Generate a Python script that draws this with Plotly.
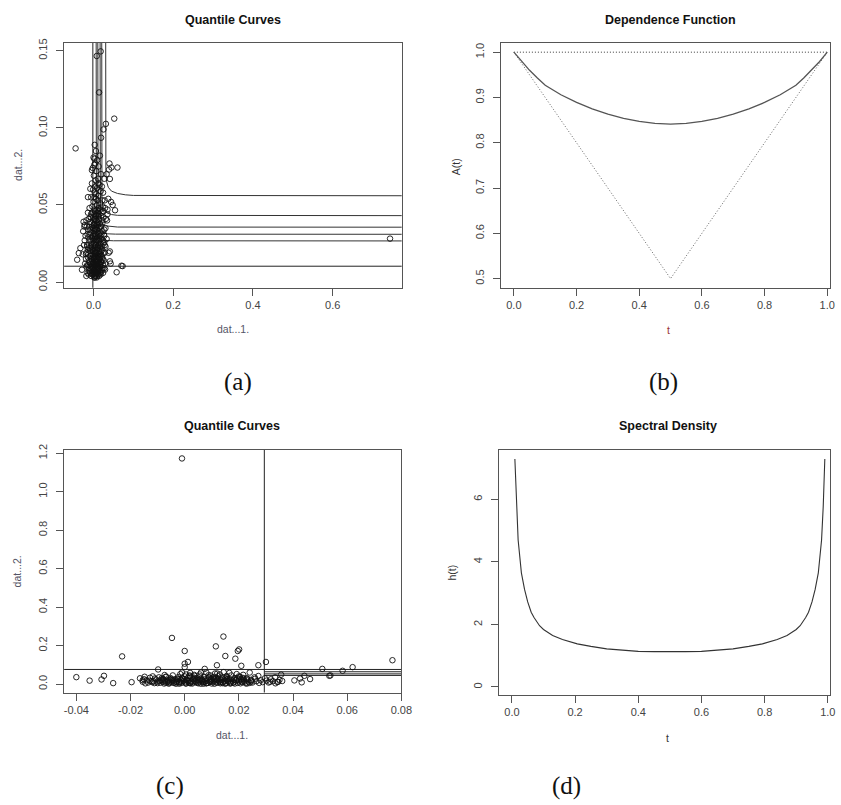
import plotly.graph_objects as go

# ---------------- Panel (a) data ----------------
a_x = [-0.045, 0.019, 0.000, 0.040, 0.060, 0.045, 0.033, 0.041, -0.004, 0.002, -0.008, -0.014, 0.054, 0.048,
       -0.025, -0.022, -0.037, -0.041, -0.033, 0.041, 0.041, 0.029, 0.070, 0.058, -0.029, 0.018, 0.008, 0.014,
       0.052, 0.031, 0.025, 0.003, 0.744, 0.073,
       0.002, 0.005, 0.008, -0.003, 0.011, 0.014, 0.001, -0.008, 0.017, 0.004, 0.007, -0.012, 0.013, 0.020,
       -0.002, 0.010, 0.003, -0.006, 0.016, 0.023, 0.006, -0.016, 0.000, 0.012, 0.009, -0.010, 0.019, 0.004,
       -0.004, 0.015, 0.001, 0.026, -0.019, 0.008, 0.011, -0.007, 0.003, 0.018, -0.013, 0.006, 0.000, 0.014,
       -0.002, 0.022, 0.009, -0.009, 0.004, 0.017, -0.016, 0.012, 0.001, -0.005, 0.025, 0.007, 0.015, -0.011,
       0.003, 0.020, 0.010, -0.002, 0.006, 0.013, -0.007, 0.018, 0.001, 0.009, -0.013, 0.027, 0.004, 0.016,
       -0.004, 0.011, 0.022, 0.002, -0.009, 0.007, 0.014, -0.001, 0.019, 0.005, -0.006, 0.010, 0.025, 0.002,
       0.013, -0.003, 0.008, 0.017, 0.000, 0.022, 0.006, -0.006, 0.012, 0.003, 0.018, -0.001, 0.009, 0.015,
       -0.004, 0.005, 0.011, 0.001, 0.019, 0.007, -0.002, 0.013, 0.004, 0.009, 0.002, 0.016, 0.006,
       0.003, 0.006, 0.009, 0.012, 0.000, 0.005, 0.008, 0.002, 0.011, 0.014, -0.001, 0.007, 0.010, 0.005,
       0.013, 0.002, 0.009, 0.016, 0.007, 0.011, 0.003, 0.005, 0.012, 0.008, 0.004, 0.010, 0.006, 0.003,
       0.008, 0.012, 0.004, 0.009, 0.002, 0.007, 0.010, 0.004, 0.012, 0.021, 0.024, -0.014, -0.018, 0.028,
       0.030, 0.027, 0.031, 0.029, 0.024, 0.021, 0.027, -0.010, -0.012, -0.020, -0.022, -0.015, 0.034, 0.037,
       -0.017, 0.035, 0.039, -0.027, 0.044]
a_y = [0.0867, 0.0936, 0.0808, 0.0769, 0.0743, 0.0743, 0.0700, 0.0669, 0.0726, 0.0760, 0.0605, 0.0551, 0.0466, 0.0500,
       0.0391, 0.0370, 0.0188, 0.0145, 0.0220, 0.0199, 0.0135, 0.0081, 0.0106, 0.0064, 0.0080, 0.1496, 0.1466, 0.1230,
       0.1060, 0.1026, 0.0990, 0.0890, 0.0282, 0.0104,
       0.003, 0.004, 0.003, 0.005, 0.005, 0.004, 0.006, 0.006, 0.006, 0.007, 0.008, 0.008, 0.008, 0.007,
       0.009, 0.009, 0.010, 0.010, 0.010, 0.009, 0.011, 0.011, 0.012, 0.012, 0.013, 0.013, 0.013, 0.014,
       0.014, 0.015, 0.015, 0.014, 0.015, 0.016, 0.017, 0.017, 0.018, 0.018, 0.018, 0.019, 0.020, 0.020,
       0.021, 0.021, 0.022, 0.022, 0.023, 0.023, 0.023, 0.024, 0.025, 0.025, 0.025, 0.026, 0.027, 0.027,
       0.028, 0.028, 0.029, 0.030, 0.031, 0.031, 0.032, 0.032, 0.033, 0.034, 0.034, 0.034, 0.035, 0.036,
       0.036, 0.037, 0.038, 0.038, 0.039, 0.040, 0.041, 0.042, 0.043, 0.043, 0.044, 0.045, 0.046, 0.047,
       0.048, 0.049, 0.050, 0.051, 0.052, 0.053, 0.054, 0.055, 0.056, 0.058, 0.059, 0.060, 0.061, 0.063,
       0.064, 0.066, 0.067, 0.069, 0.070, 0.072, 0.074, 0.075, 0.077, 0.079, 0.080, 0.082, 0.085,
       0.004, 0.005, 0.006, 0.007, 0.008, 0.009, 0.011, 0.012, 0.010, 0.012, 0.013, 0.014, 0.015, 0.016,
       0.016, 0.017, 0.019, 0.016, 0.021, 0.022, 0.020, 0.024, 0.027, 0.028, 0.030, 0.032, 0.034, 0.041,
       0.037, 0.043, 0.046, 0.047, 0.055, 0.057, 0.053, 0.062, 0.064, 0.017, 0.011, 0.021, 0.019, 0.019,
       0.023, 0.030, 0.041, 0.048, 0.058, 0.062, 0.067, 0.048, 0.041, 0.030, 0.027, 0.031, 0.040, 0.054,
       0.036, 0.047, 0.073, 0.018, 0.052]
# denser lower part of the (a) cloud
a_x_dense = [-0.018, -0.015, -0.012, -0.009, -0.006, -0.003, 0.000, 0.003, 0.006, 0.009, 0.012, 0.015, 0.018, 0.021, 0.024, 0.027,
             -0.021, -0.017, -0.013, -0.010, -0.007, -0.004, -0.001, 0.002, 0.005, 0.008, 0.011, 0.014, 0.017, 0.020, 0.023, 0.029,
             -0.019, -0.014, -0.011, -0.008, -0.005, -0.002, 0.001, 0.004, 0.007, 0.010, 0.013, 0.016, 0.019, 0.022, 0.025, 0.028,
             -0.016, -0.012, -0.009, -0.006, -0.003, 0.000, 0.003, 0.006, 0.009, 0.012, 0.015, 0.018, 0.021, 0.024, 0.027, -0.024,
             -0.013, -0.010, -0.007, -0.004, -0.001, 0.002, 0.005, 0.008, 0.011, 0.014, 0.017, 0.020, 0.023, 0.026, 0.030, -0.026,
             -0.011, -0.008, -0.005, -0.002, 0.001, 0.004, 0.007, 0.010, 0.013, 0.016, 0.019, 0.022, 0.025, -0.018, -0.023, 0.033,
             -0.007, -0.004, -0.001, 0.002, 0.005, 0.008, 0.011, 0.014, 0.017, 0.020, 0.023, -0.014, 0.028, 0.035, 0.038, 0.043]
a_y_dense = [0.004, 0.006, 0.005, 0.007, 0.004, 0.006, 0.005, 0.003, 0.006, 0.004, 0.005, 0.007, 0.005, 0.008, 0.006, 0.009,
             0.012, 0.010, 0.011, 0.009, 0.012, 0.008, 0.010, 0.011, 0.013, 0.010, 0.012, 0.009, 0.011, 0.013, 0.015, 0.012,
             0.018, 0.016, 0.014, 0.017, 0.015, 0.018, 0.016, 0.019, 0.017, 0.014, 0.018, 0.015, 0.020, 0.016, 0.019, 0.024,
             0.024, 0.022, 0.020, 0.023, 0.021, 0.025, 0.022, 0.024, 0.021, 0.023, 0.022, 0.025, 0.023, 0.027, 0.026, 0.024,
             0.029, 0.031, 0.027, 0.029, 0.027, 0.031, 0.029, 0.027, 0.030, 0.028, 0.030, 0.031, 0.033, 0.031, 0.035, 0.033,
             0.036, 0.034, 0.038, 0.035, 0.037, 0.034, 0.036, 0.039, 0.035, 0.038, 0.036, 0.040, 0.042, 0.040, 0.036, 0.028,
             0.042, 0.045, 0.040, 0.044, 0.041, 0.043, 0.046, 0.044, 0.047, 0.045, 0.049, 0.045, 0.053, 0.044, 0.019, 0.012]

# quantile curves (a)
qa1_vx = [-0.0017, -0.0017]
qa1_vy = [-0.01, 0.16]
qa1_hx = [-0.08, 0.78]
qa1_hy = [0.0103, 0.0103]
qa2_x = [0.0066, 0.0066, 0.0073, 0.0095, 0.0135, 0.0200, 0.0320, 0.0500, 0.7800]
qa2_y = [0.1600, 0.0380, 0.0340, 0.0302, 0.0285, 0.0275, 0.0270, 0.0268, 0.0267]
qa3_x = [0.0107, 0.0107, 0.0114, 0.0135, 0.0175, 0.0240, 0.0360, 0.0550, 0.7800]
qa3_y = [0.1600, 0.0420, 0.0380, 0.0345, 0.0328, 0.0318, 0.0313, 0.0311, 0.0310]
qa4_x = [0.0165, 0.0165, 0.0172, 0.0195, 0.0235, 0.0300, 0.0420, 0.0600, 0.7800]
qa4_y = [0.1600, 0.0480, 0.0435, 0.0395, 0.0375, 0.0365, 0.0360, 0.0357, 0.0356]
qa5_x = [0.0206, 0.0206, 0.0212, 0.0235, 0.0275, 0.0340, 0.0450, 0.0600, 0.7800]
qa5_y = [0.1600, 0.0600, 0.0540, 0.0490, 0.0465, 0.0448, 0.0438, 0.0433, 0.0431]
qa6_x = [0.0305, 0.0305, 0.0310, 0.0330, 0.0370, 0.0450, 0.0600, 0.0800, 0.1000, 0.7800]
qa6_y = [0.1600, 0.0780, 0.0700, 0.0650, 0.0615, 0.0590, 0.0575, 0.0566, 0.0562, 0.0560]

# ---------------- Panel (b) data ----------------
b_t = [0.0, 0.025, 0.05, 0.075, 0.1, 0.15, 0.2, 0.25, 0.3, 0.35, 0.4, 0.45, 0.5, 0.55, 0.6, 0.65, 0.7, 0.75,
       0.8, 0.85, 0.9, 0.925, 0.95, 0.975, 1.0]
b_A = [1.0, 0.979, 0.960, 0.943, 0.927, 0.906, 0.889, 0.875, 0.863, 0.854, 0.847, 0.843, 0.841, 0.843, 0.847,
       0.854, 0.863, 0.875, 0.889, 0.906, 0.927, 0.943, 0.960, 0.979, 1.0]
b_upper_t = [0.0, 1.0]
b_upper_A = [1.0, 1.0]
b_lower_t = [0.0, 0.5, 1.0]
b_lower_A = [1.0, 0.5, 1.0]

# ---------------- Panel (c) data ----------------
c_x = [-0.0010, -0.0047, 0.0143, 0.0115, 0.0196, 0.0201, 0.0000, 0.0150, -0.0231, 0.0187, 0.0012, 0.0000,
       0.0300, 0.0272, 0.0209, 0.0119, -0.0098, 0.0074, 0.0767, 0.0620, 0.0508, 0.0583, 0.0534, 0.0538,
       0.0463, 0.0442, 0.0426, 0.0405, 0.0432, 0.0356, 0.0345, -0.0400, -0.0351, -0.0307, -0.0298, -0.0264,
       -0.0196, -0.0074, 0.0000,
       -0.0165, -0.0155, -0.0148, -0.0140, -0.0135, -0.0128, -0.0122, -0.0118, -0.0112, -0.0106, -0.0100, -0.0095,
       -0.0090, -0.0085, -0.0080, -0.0076, -0.0072, -0.0068, -0.0064, -0.0060, -0.0056, -0.0052, -0.0048, -0.0044,
       -0.0040, -0.0036, -0.0032, -0.0028, -0.0024, -0.0020, -0.0016, -0.0012, -0.0008, -0.0004, 0.0000, 0.0004,
       0.0008, 0.0012, 0.0016, 0.0020, 0.0024, 0.0028, 0.0032, 0.0036, 0.0040, 0.0044, 0.0048, 0.0052,
       0.0056, 0.0060, 0.0064, 0.0068, 0.0072, 0.0076, 0.0080, 0.0084, 0.0088, 0.0092, 0.0096, 0.0100,
       0.0104, 0.0108, 0.0112, 0.0116, 0.0120, 0.0124, 0.0128, 0.0132, 0.0136, 0.0140, 0.0144, 0.0148,
       0.0152, 0.0156, 0.0160, 0.0164, 0.0168, 0.0172, 0.0176, 0.0180, 0.0184, 0.0188, 0.0192, 0.0196,
       0.0200, 0.0204, 0.0208, 0.0212, 0.0216, 0.0220, 0.0225, 0.0230, 0.0235, 0.0240, 0.0245, 0.0250,
       0.0258, 0.0265, 0.0272, 0.0280, 0.0288, 0.0296, 0.0302, 0.0310, 0.0318, 0.0326, 0.0334, 0.0342,
       0.0350, 0.0360,
       -0.0150, -0.0130, -0.0110, -0.0093, -0.0078, -0.0062, -0.0046, -0.0030, -0.0014, 0.0002, 0.0014, 0.0026,
       0.0038, 0.0050, 0.0062, 0.0074, 0.0086, 0.0098, 0.0110, 0.0122, 0.0134, 0.0146, 0.0158, 0.0170,
       0.0182, 0.0194, 0.0206, 0.0218, 0.0232, 0.0246, 0.0038, 0.0058, 0.0018, -0.0010, 0.0080, 0.0130,
       0.0165, -0.0026, 0.0090, 0.0115, 0.0020, 0.0070, 0.0110, 0.0150, -0.0020]
c_y = [1.173, 0.240, 0.247, 0.196, 0.172, 0.180, 0.172, 0.146, 0.144, 0.132, 0.115, 0.106,
       0.115, 0.098, 0.095, 0.098, 0.076, 0.079, 0.124, 0.088, 0.079, 0.069, 0.043, 0.045,
       0.026, 0.043, 0.029, 0.019, 0.009, 0.049, 0.012, 0.036, 0.018, 0.024, 0.043, 0.005,
       0.010, 0.047, 0.088,
       0.030, 0.012, 0.038, 0.020, 0.008, 0.033, 0.015, 0.040, 0.005, 0.024, 0.013, 0.035,
       0.007, 0.019, 0.028, 0.003, 0.015, 0.038, 0.010, 0.022, 0.004, 0.031, 0.014, 0.045,
       0.008, 0.025, 0.002, 0.018, 0.036, 0.011, 0.052, 0.006, 0.027, 0.016, 0.040, 0.004,
       0.021, 0.033, 0.009, 0.058, 0.014, 0.003, 0.026, 0.043, 0.012, 0.007, 0.030, 0.018,
       0.050, 0.002, 0.022, 0.010, 0.037, 0.015, 0.005, 0.028, 0.046, 0.011, 0.020, 0.003,
       0.034, 0.013, 0.055, 0.008, 0.024, 0.041, 0.016, 0.004, 0.030, 0.010, 0.062, 0.019,
       0.006, 0.036, 0.013, 0.025, 0.003, 0.045, 0.017, 0.009, 0.032, 0.021, 0.052, 0.006,
       0.014, 0.038, 0.025, 0.010, 0.048, 0.018, 0.004, 0.030, 0.012, 0.060, 0.022, 0.008,
       0.035, 0.015, 0.042, 0.020, 0.010, 0.030, 0.018, 0.008, 0.025, 0.015, 0.035, 0.011,
       0.022, 0.016,
       0.025, 0.017, 0.029, 0.016, 0.022, 0.017, 0.021, 0.009, 0.021, 0.010, 0.016, 0.037,
       0.019, 0.009, 0.016, 0.024, 0.006, 0.027, 0.019, 0.007, 0.022, 0.014, 0.027, 0.010,
       0.024, 0.031, 0.004, 0.027, 0.020, 0.013, 0.028, 0.040, 0.045, 0.060, 0.060, 0.050,
       0.058, 0.028, 0.033, 0.030, 0.004, 0.002, 0.002, 0.002, 0.002]
# denser core of the (c) band
c_x_dense = [-0.010, -0.008, -0.006, -0.004, -0.002, 0.000, 0.002, 0.004, 0.006, 0.008, 0.010, 0.012, 0.014, 0.016, 0.018, 0.020, 0.022, 0.024,
             -0.009, -0.007, -0.005, -0.003, -0.001, 0.001, 0.003, 0.005, 0.007, 0.009, 0.011, 0.013, 0.015, 0.017, 0.019, 0.021, 0.023, -0.012,
             -0.0115, -0.0085, -0.0055, -0.0025, 0.0005, 0.0035, 0.0065, 0.0095, 0.0125, 0.0155, 0.0185, 0.0215, 0.0245, -0.0145, 0.0275, 0.0315, 0.0335, 0.0005,
             -0.007, -0.004, -0.001, 0.002, 0.005, 0.008, 0.011, 0.014, 0.017, 0.020, 0.023, 0.0035, 0.0095, 0.0155, -0.0155, 0.0260, 0.0060, 0.0120]
c_y_dense = [0.005, 0.012, 0.003, 0.018, 0.008, 0.025, 0.006, 0.015, 0.028, 0.004, 0.012, 0.020, 0.005, 0.016, 0.008, 0.022, 0.012, 0.006,
             0.020, 0.007, 0.026, 0.013, 0.032, 0.017, 0.009, 0.021, 0.011, 0.035, 0.026, 0.010, 0.031, 0.005, 0.019, 0.014, 0.027, 0.010,
             0.014, 0.030, 0.010, 0.024, 0.003, 0.033, 0.019, 0.014, 0.028, 0.022, 0.003, 0.032, 0.018, 0.004, 0.006, 0.012, 0.004, 0.050,
             0.038, 0.006, 0.013, 0.040, 0.004, 0.018, 0.038, 0.035, 0.024, 0.040, 0.003, 0.048, 0.045, 0.042, 0.020, 0.028, 0.060, 0.055]

# quantile curves (c)
qc_v_x = [0.0294, 0.0294]
qc_v_y = [-0.1, 1.3]
qc_h_x = [-0.05, 0.09]
qc_h_y = [0.076, 0.076]
qc_r_levels = [0.064, 0.053, 0.045]
qc_r_x = [0.0294, 0.09]

# ---------------- Panel (d) data ----------------
d_t = [0.0094, 0.0145, 0.0197, 0.030, 0.040, 0.050, 0.061, 0.070, 0.0875, 0.100, 0.129, 0.160, 0.207, 0.250,
       0.300, 0.350, 0.400, 0.450, 0.500, 0.550, 0.600, 0.650, 0.700, 0.750, 0.793, 0.840, 0.871, 0.900,
       0.9125, 0.930, 0.939, 0.950, 0.960, 0.970, 0.9803, 0.9855, 0.9906]
d_h = [7.29, 5.76, 4.70, 3.65, 3.12, 2.72, 2.39, 2.22, 1.96, 1.84, 1.65, 1.52, 1.38, 1.30,
       1.22, 1.18, 1.14, 1.13, 1.12, 1.13, 1.14, 1.18, 1.22, 1.30, 1.38, 1.52, 1.65, 1.84,
       1.96, 2.22, 2.39, 2.72, 3.12, 3.65, 4.70, 5.76, 7.29]

# ---------------- Figure ----------------
W, H = 841, 805
LINE = "#222222"
TICKC = "#444444"
FONT = "Liberation Sans, Arial, sans-serif"

fig = go.Figure()

def line(x, y, xa, ya, dash="solid", width=1.0, color=LINE):
    fig.add_trace(go.Scatter(x=x, y=y, mode="lines", xaxis=xa, yaxis=ya, showlegend=False,
                             line=dict(color=color, width=width, dash=dash), hoverinfo="skip"))

def pts(x, y, xa, ya):
    fig.add_trace(go.Scatter(x=x, y=y, mode="markers", xaxis=xa, yaxis=ya, showlegend=False,
                             marker=dict(symbol="circle-open", size=5.5, color="#111111",
                                         line=dict(width=0.9, color="#111111"))))

# (a)
line(qa1_vx, qa1_vy, "x", "y")
line(qa1_hx, qa1_hy, "x", "y")
for qx, qy in [(qa2_x, qa2_y), (qa3_x, qa3_y), (qa4_x, qa4_y), (qa5_x, qa5_y), (qa6_x, qa6_y)]:
    line(qx, qy, "x", "y", color="#333333")
pts(a_x + a_x_dense, a_y + a_y_dense, "x", "y")

# (b)
line(b_upper_t, b_upper_A, "x2", "y2", dash="1px,2px", width=0.9)
line(b_lower_t, b_lower_A, "x2", "y2", dash="1px,2px", width=0.9, color="#555555")
line(b_t, b_A, "x2", "y2", width=1.3, color="#555555")

# (c)
line(qc_v_x, qc_v_y, "x3", "y3")
line(qc_h_x, qc_h_y, "x3", "y3")
for lv in qc_r_levels:
    line(qc_r_x, [lv, lv], "x3", "y3")
pts(c_x + c_x_dense, c_y + c_y_dense, "x3", "y3")

# (d)
line(d_t, d_h, "x4", "y4", width=1.1, color="#333333")

def xaxis(domain, rng, tickvals, ticktext, anchor):
    return dict(domain=domain, range=rng, tickvals=tickvals, ticktext=ticktext, anchor=anchor,
                showline=True, mirror=True, linecolor="#555555", linewidth=1, ticks="outside",
                ticklen=7, tickcolor="#555555", showgrid=False, zeroline=False,
                tickfont=dict(family=FONT, size=11, color=TICKC))

def yaxis(domain, rng, tickvals, ticktext, anchor):
    return dict(domain=domain, range=rng, tickvals=tickvals, ticktext=ticktext, anchor=anchor,
                showline=True, mirror=True, linecolor="#555555", linewidth=1, ticks="outside",
                ticklen=7, tickcolor="#555555", showgrid=False, zeroline=False, tickangle=-90,
                ticklabelstandoff=5, tickfont=dict(family=FONT, size=11, color=TICKC))

def px(xp):
    return xp / W

def py(yp):
    return 1 - yp / H

a_xt = [0.0, 0.2, 0.4, 0.6]
a_yt = [0.00, 0.05, 0.10, 0.15]
b_xt = [0.0, 0.2, 0.4, 0.6, 0.8, 1.0]
b_yt = [0.5, 0.6, 0.7, 0.8, 0.9, 1.0]
c_xt = [-0.04, -0.02, 0.00, 0.02, 0.04, 0.06, 0.08]
c_yt = [0.0, 0.2, 0.4, 0.6, 0.8, 1.0, 1.2]
d_xt = [0.0, 0.2, 0.4, 0.6, 0.8, 1.0]
d_yt = [0, 2, 4, 6]

fig.update_layout(
    width=W, height=H, margin=dict(l=0, r=0, t=0, b=0),
    paper_bgcolor="white", plot_bgcolor="white", showlegend=False,
    xaxis=xaxis([px(65), px(407)], [-0.0737, 0.7732], a_xt, ["0.0", "0.2", "0.4", "0.6"], "y"),
    yaxis=yaxis([py(285), py(37)], [-0.0037, 0.1553], a_yt, ["0.00", "0.05", "0.10", "0.15"], "x"),
    xaxis2=xaxis([px(508), 1.0], [-0.04, 1.0088], b_xt, ["0.0", "0.2", "0.4", "0.6", "0.8", "1.0"], "y2"),
    yaxis2=yaxis([py(285), py(37)], [0.4797, 1.0212], b_yt, ["0.5", "0.6", "0.7", "0.8", "0.9", "1.0"], "x2"),
    xaxis3=xaxis([px(65), px(406.7)], [-0.0445, 0.0800], c_xt,
                 ["-0.04", "-0.02", "0.00", "0.02", "0.04", "0.06", "0.08"], "y3"),
    yaxis3=yaxis([py(694.3), py(449)], [-0.044, 1.217], c_yt, ["0.0", "0.2", "0.4", "0.6", "0.8", "1.0", "1.2"], "x3"),
    xaxis4=xaxis([px(505.7), 1.0], [-0.0406, 1.007], d_xt, ["0.0", "0.2", "0.4", "0.6", "0.8", "1.0"], "y4"),
    yaxis4=yaxis([py(696.7), py(449.3)], [-0.253, 7.57], d_yt, ["0", "2", "4", "6"], "x4"),
)

def ann(text, xp, yp, size, color="#111111", bold=False, angle=0, family=FONT):
    fig.add_annotation(text=("<b>%s</b>" % text) if bold else text, x=px(xp), y=py(yp),
                       xref="paper", yref="paper", showarrow=False, textangle=angle,
                       xanchor="center", yanchor="middle",
                       font=dict(family=family, size=size, color=color))

# titles
ann("Quantile Curves", 236, 14, 12.5, bold=True)
ann("Dependence Function", 679, 14, 12.5, bold=True)
ann("Quantile Curves", 235, 425, 12.5, bold=True)
ann("Spectral Density", 677, 425, 12.5, bold=True)
# axis titles
ann("dat...1.", 236, 327, 10.5, color="#555566")
ann("dat...2.", 18, 161, 10.5, color="#555566", angle=-90)
ann("t", 677, 328, 10.5, color="#993333")
ann("A(t)", 462, 162, 10.5, color="#333333", angle=-90)
ann("dat...1.", 235, 737, 10.5, color="#555566")
ann("dat...2.", 17, 572, 10.5, color="#555566", angle=-90)
ann("t", 676, 740, 10.5, color="#333333")
ann("h(t)", 458, 573, 10.5, color="#333333", angle=-90)
# panel labels
SERIF = "Liberation Serif, Times New Roman, serif"
ann("(a)", 241, 380, 25, family=SERIF)
ann("(b)", 672, 380, 25, family=SERIF)
ann("(c)", 172, 789, 25, family=SERIF)
ann("(d)", 574, 789, 25, family=SERIF)

fig.write_html("out.html")
